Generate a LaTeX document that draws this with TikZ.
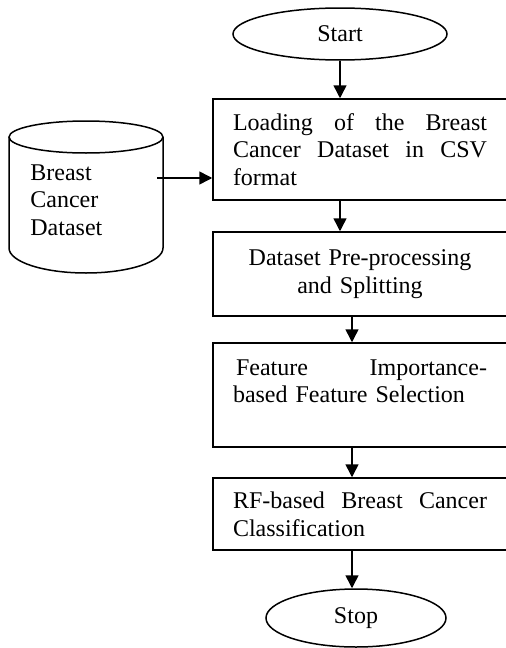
\documentclass[tikz,border=0pt]{standalone}
\usepackage{fontspec}
\setmainfont{Liberation Serif}
\usetikzlibrary{arrows.meta,positioning,shapes.geometric,calc}
\tikzset{
  step box/.style={draw,line width=0.75pt,rectangle,align=left,text width=127pt,
    inner xsep=10pt,inner ysep=3pt,font=\fontsize{12}{13.8}\selectfont},
  end node/.style={draw,line width=0.75pt,ellipse,inner sep=0pt,
    font=\fontsize{12}{13.8}\selectfont},
  step arrow/.style={-{Triangle[length=6.5pt,width=6.5pt]},line width=0.75pt}
}

\begin{document}
\begin{tikzpicture}[x=1pt,y=1pt]
  \clip (0,0) rectangle (253,-324);
  % terminals
  \node[end node,minimum width=107pt,minimum height=26pt] (start) at (170,-17) {Start};
  \node[end node,minimum width=90pt,minimum height=29pt] (stop) at (178,-309) {Stop};
  % processing steps
  \node[step box,minimum height=50.5pt] (load) at (180,-74.75)
    {Loading\hfill of\hfill the\hfill Breast\\Cancer\hfill Dataset\hfill in\hfill CSV\\format};
  \node[step box,minimum height=42pt,align=center] (prep) at (180,-137)
    {Dataset Pre-processing\\and Splitting};
  \node[step box,minimum height=52pt] (select) at (180,-197.5)
    {\hspace{1.5pt}Feature\hfill Importance-\\based Feature Selection\\\mbox{}};
  \node[step box,minimum height=36pt] (classify) at (180,-257)
    {RF-based\hfill Breast\hfill Cancer\\Classification};
  % dataset store
  \draw[line width=0.75pt] (4.5,-68.5) -- (4.5,-124)
    arc[start angle=180,end angle=360,x radius=38.5,y radius=12.5] -- (81.5,-68.5);
  \draw[line width=0.75pt] (43,-68.5) ellipse[x radius=38.5,y radius=8];
  \node[align=left,anchor=north west,inner sep=0pt,font=\fontsize{12}{13.8}\selectfont]
    (data) at (15,-82) {Breast\\Cancer\\Dataset};
  \coordinate (dataout) at (78.5,-89);
  % connectors
  \draw[step arrow] (dataout) -- (dataout -| load.west);
  \draw[step arrow] (start) -- (start |- load.north);
  \draw[step arrow] (load.south -| start) -- (prep.north -| start);
  \draw[step arrow] ([xshift=-4pt]prep.south) -- ([xshift=-4pt]select.north);
  \draw[step arrow] ([xshift=-4pt]select.south) -- ([xshift=-4pt]classify.north);
  \draw[step arrow] ([xshift=-4pt]classify.south) -- ([xshift=-4pt]classify.south |- stop.north);
\end{tikzpicture}
\end{document}
